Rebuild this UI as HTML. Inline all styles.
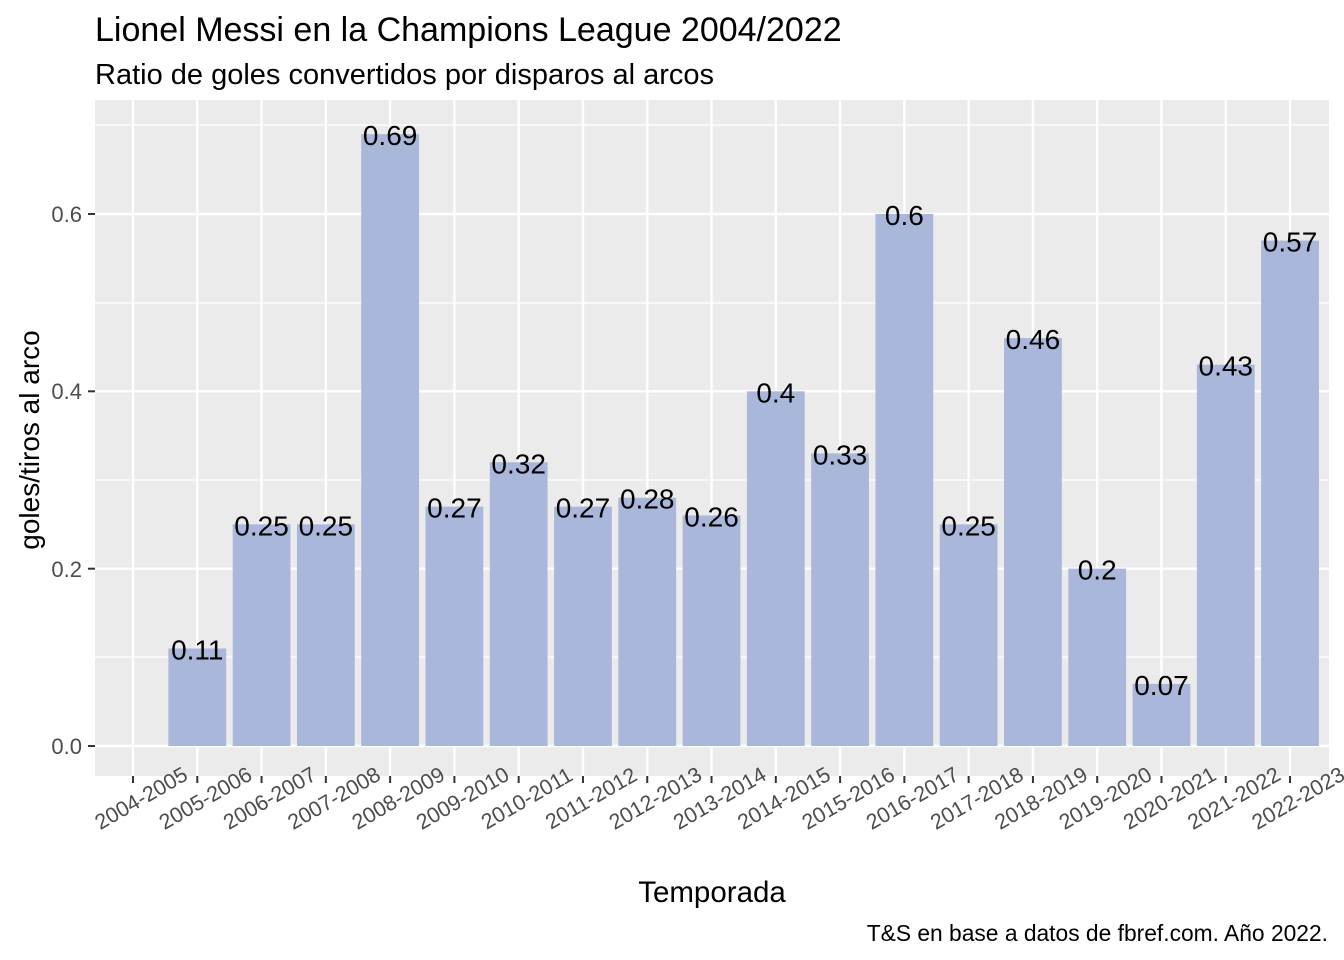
<!DOCTYPE html>
<html><head><meta charset="utf-8"><style>body{margin:0;background:#fff}svg{display:block}text{font-family:"Liberation Sans",Arial,sans-serif}</style></head>
<body>
<svg width="1344" height="960" xmlns="http://www.w3.org/2000/svg">
<rect width="1344" height="960" fill="#fff"/>
<text x="95" y="41" font-size="34" fill="#000">Lionel Messi en la Champions League 2004/2022</text>
<text x="95" y="84" font-size="29" fill="#000">Ratio de goles convertidos por disparos al arcos</text>
<rect x="95" y="100" width="1234" height="676" fill="#EBEBEB"/>
<g stroke="#fff" stroke-width="1.2">
<line x1="95" x2="1329" y1="657" y2="657"/><line x1="95" x2="1329" y1="480" y2="480"/><line x1="95" x2="1329" y1="303" y2="303"/><line x1="95" x2="1329" y1="125" y2="125"/>
</g>
<g stroke="#fff" stroke-width="2.4">
<line x1="95" x2="1329" y1="746" y2="746"/><line x1="95" x2="1329" y1="568.7" y2="568.7"/><line x1="95" x2="1329" y1="391.3" y2="391.3"/><line x1="95" x2="1329" y1="214" y2="214"/>
<g id="vg"></g>
</g>
<g id="bars"></g>
<g fill="#4D4D4D" text-anchor="end" font-size="22">
<text x="82" y="754">0.0</text><text x="82" y="577">0.2</text><text x="82" y="399">0.4</text><text x="82" y="222">0.6</text>
</g>
<g stroke="#333" stroke-width="2"><line x1="88" x2="95" y1="746" y2="746"/><line x1="88" x2="95" y1="568.7" y2="568.7"/><line x1="88" x2="95" y1="391.3" y2="391.3"/><line x1="88" x2="95" y1="214" y2="214"/></g>
<g id="xt"></g>
<text x="712" y="902" font-size="29.5" text-anchor="middle" fill="#000">Temporada</text>
<text transform="translate(39,440) rotate(-90)" font-size="28" text-anchor="middle" fill="#000">goles/tiros al arco</text>
<text x="1328" y="941" font-size="22.8" text-anchor="end" fill="#000">T&amp;S en base a datos de fbref.com. Año 2022.</text>
<script>
var v=[null,0.11,0.25,0.25,0.69,0.27,0.32,0.27,0.28,0.26,0.4,0.33,0.6,0.25,0.46,0.2,0.07,0.43,0.57];
var ns="http://www.w3.org/2000/svg",s=64.28,x0=133,y0=746,k=886.7;
function el(n,a,p,t){var e=document.createElementNS(ns,n);for(var i in a)e.setAttribute(i,a[i]);if(t!=null)e.textContent=t;p.appendChild(e);return e}
var vg=document.getElementById('vg'),b=document.getElementById('bars'),xt=document.getElementById('xt');
for(var i=0;i<19;i++){var cx=x0+i*s;
el('line',{x1:cx,x2:cx,y1:100,y2:776},vg);
el('line',{x1:cx,x2:cx,y1:776,y2:783,stroke:'#333','stroke-width':2},xt);
var y=2004+i;el('text',{transform:'translate('+(cx+8)+',798) rotate(-30)','text-anchor':'middle','font-size':21.5,fill:'#4D4D4D',dy:'0.35em'},xt,y+'-'+(y+1));
if(v[i]!=null){var h=v[i]*k;el('rect',{x:cx-28.9,y:y0-h,width:57.8,height:h,fill:'#A9B8DA'},b);
el('text',{x:cx,y:y0-h+11,'text-anchor':'middle','font-size':28,fill:'#000'},b,String(v[i]));}}
</script>
</svg>
</body></html>
